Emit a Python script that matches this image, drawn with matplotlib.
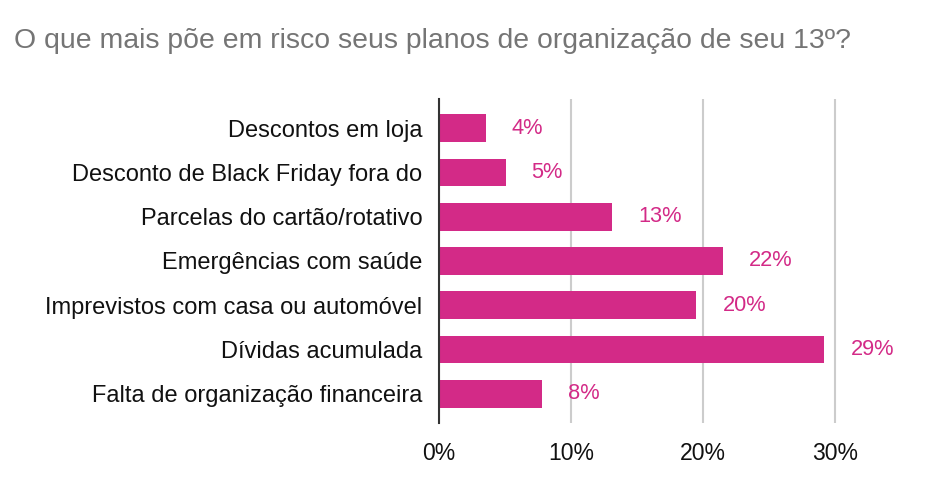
import matplotlib
matplotlib.use("Agg")
import matplotlib.pyplot as plt

categories = [
    "Descontos em loja",
    "Desconto de Black Friday fora do",
    "Parcelas do cartão/rotativo",
    "Emergências com saúde",
    "Imprevistos com casa ou automóvel",
    "Dívidas acumulada",
    "Falta de organização financeira",
]
values = [3.55, 5.05, 13.1, 21.5, 19.5, 29.2, 7.8]
value_labels = ["4%", "5%", "13%", "22%", "20%", "29%", "8%"]
xticks = [0, 10, 20, 30]
xtick_labels = ["0%", "10%", "20%", "30%"]
title = "O que mais põe em risco seus planos de organização de seu 13º?"

plt.rcParams['font.family'] = ['Liberation Sans', 'DejaVu Sans']
pink = '#D32A87'

fig = plt.figure(figsize=(9.32, 4.8), dpi=100)
ax = fig.add_axes([439/932, 1-423/480, (901-439)/932, (423-99)/480])

y = list(range(len(categories)))
ax.barh(y, values, height=0.63, color=pink, zorder=3)
for yi, v, lab in zip(y, values, value_labels):
    ax.annotate(lab, (v, yi), xytext=(26, 0), textcoords='offset pixels',
                ha='left', va='center', fontsize=15.7, color=pink)

ax.set_ylim(6.66, -0.66)
ax.set_xlim(0, 35)
ax.set_xticks(xticks)
ax.set_xticklabels(xtick_labels, fontsize=16.6, color='#111111')
ax.set_yticks(y)
ax.set_yticklabels(categories, fontsize=17, color='#111111')
ax.tick_params(axis='both', length=0)
ax.tick_params(axis='y', pad=12)
ax.tick_params(axis='x', pad=14)
ax.grid(axis='x', color='#CCCCCC', linewidth=1.5, zorder=0)
for s in ['top', 'right', 'bottom']:
    ax.spines[s].set_visible(False)
ax.spines['left'].set_color('#333333')
ax.spines['left'].set_linewidth(1.5)
ax.spines['left'].set_zorder(4)

fig.text(14/932, 1-48/480, title, fontsize=20.4, color='#757575', ha='left', va='baseline')

fig.savefig("out.png", dpi=100)
